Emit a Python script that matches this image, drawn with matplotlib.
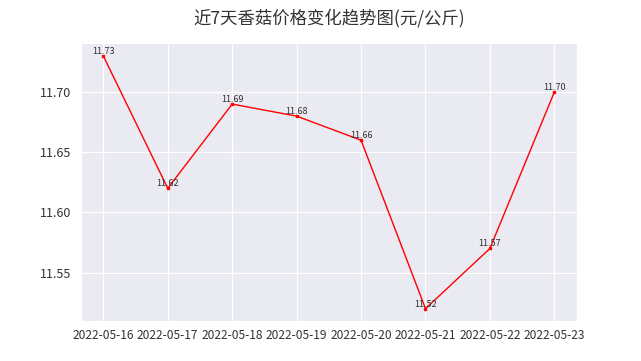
import matplotlib
matplotlib.use("Agg")
import matplotlib.pyplot as plt
import seaborn as sns

dates = ["2022-05-16", "2022-05-17", "2022-05-18", "2022-05-19",
         "2022-05-20", "2022-05-21", "2022-05-22", "2022-05-23"]
prices = [11.73, 11.62, 11.69, 11.68, 11.66, 11.52, 11.57, 11.70]

sns.set_style("darkgrid")
plt.rcParams['font.family'] = ['Noto Sans CJK SC', 'DejaVu Sans']
plt.rcParams['axes.unicode_minus'] = False

fig, ax = plt.subplots(figsize=(6.41, 3.61), dpi=100)
x = list(range(len(dates)))
ax.plot(x, prices, color='red', linewidth=1, marker='s', markersize=2)
for xi, yi in zip(x, prices):
    ax.text(xi, yi, f"{yi:.2f}", ha='center', va='bottom', fontsize=6.5, color='#333333')
ax.set_xticks(x)
ax.set_xticklabels(dates)
ax.set_yticks([11.55, 11.60, 11.65, 11.70])
ax.set_yticklabels(["11.55", "11.60", "11.65", "11.70"])
ax.tick_params(axis='x', labelsize=8.6, colors='#333333', pad=2)
ax.tick_params(axis='y', labelsize=9, colors='#333333')
ax.set_title("近7天香菇价格变化趋势图(元/公斤)", fontsize=12.5, pad=14, color='#333333')
fig.subplots_adjust(left=0.126, right=0.9, top=0.88, bottom=0.11)
fig.savefig("out.png", dpi=100)
